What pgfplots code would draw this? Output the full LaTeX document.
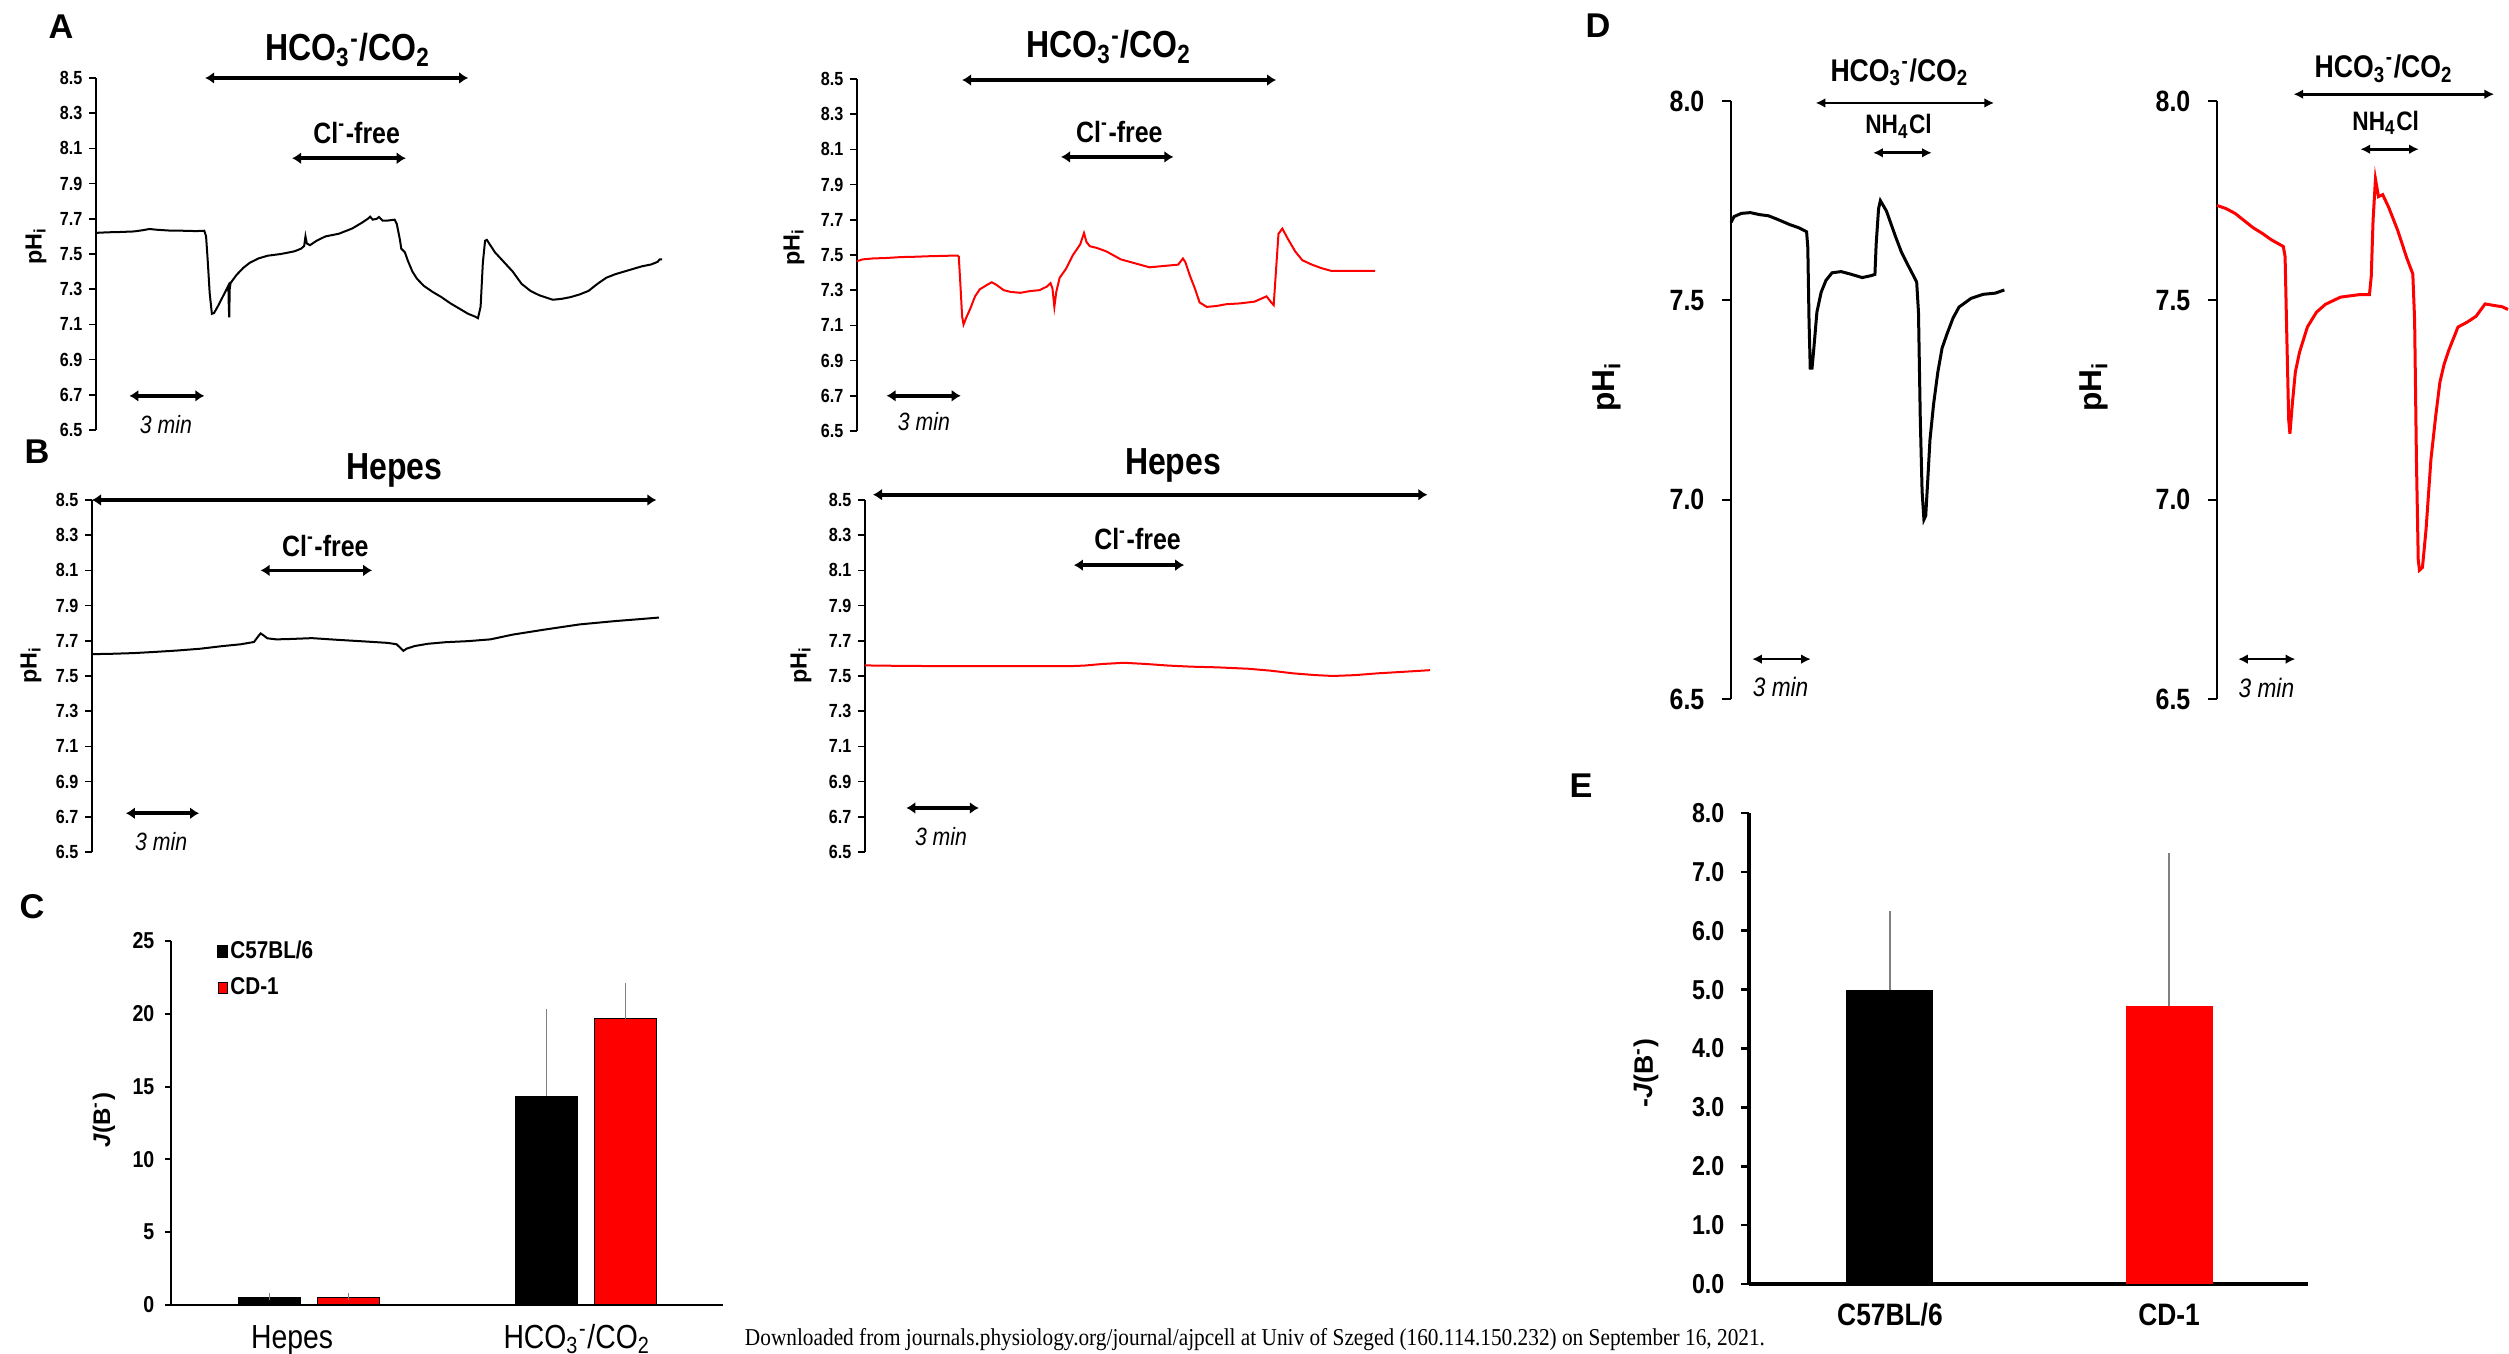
\documentclass[border=0pt]{standalone}
\usepackage{fontspec}
\setmainfont{Liberation Sans}
\newfontfamily\nar{Liberation Sans}[FakeStretch=0.85]
\newfontfamily\ser{Liberation Serif}[FakeStretch=0.88]
\usepackage{pgfplots}
\pgfplotsset{compat=1.18}
\usetikzlibrary{arrows.meta}
\newcommand\fs[1]{\fontsize{#1}{#1}\selectfont}
\definecolor{myred}{RGB}{255,0,0}
\pgfkeys{/pgf/number format/assume math mode=true}
\tikzset{
  arr/.style={{Latex[length=2.7pt,width=3.6pt]}-{Latex[length=2.7pt,width=3.6pt]}, line width=1.1pt},
  darr/.style={{Latex[length=2.9pt,width=2.9pt]}-{Latex[length=2.9pt,width=2.9pt]}, line width=0.8pt},
}
\pgfplotsset{
  trace/.style={scale only axis, hide x axis, axis y line*=left, clip=false,
    ymin=6.5, ymax=8.5, ytick={6.5,6.7,6.9,7.1,7.3,7.5,7.7,7.9,8.1,8.3,8.5},
    tick align=outside, major tick length=2pt,
    axis line style={line width=0.45pt}, tick style={line width=0.45pt, black},
    yticklabel style={font=\nar\bfseries\fs{5.7}, anchor=east, inner sep=0pt, xshift=-1.9pt,
      /pgf/number format/fixed, /pgf/number format/fixed zerofill, /pgf/number format/precision=1},
  },
  dtrace/.style={scale only axis, hide x axis, axis y line*=left, clip=false,
    ymin=6.5, ymax=8.0, ytick={6.5,7.0,7.5,8.0},
    tick align=outside, major tick length=2.7pt,
    axis line style={line width=0.6pt}, tick style={line width=0.6pt, black},
    yticklabel style={font=\nar\bfseries\fs{8.8}, anchor=east, inner sep=0pt, xshift=-5.1pt,
      /pgf/number format/fixed, /pgf/number format/fixed zerofill, /pgf/number format/precision=1},
  },
}
\newcommand\hco{HCO\textsubscript{3}\textsuperscript{-}/CO\textsubscript{2}}
\begin{document}
\begin{tikzpicture}
\path[use as bounding box] (0,0) rectangle (752.7pt,406.2pt);

% ---------------- panel letters and y labels
\node[font=\bfseries\fs{10.3}] at (18.3pt,398.1pt) {A};
\node[font=\bfseries\fs{10.3}] at (11.1pt,270.6pt) {B};
\node[font=\bfseries\fs{10.3}] at (9.6pt,134.1pt) {C};
\node[font=\bfseries\fs{10.3}] at (479.4pt,398.4pt) {D};
\node[font=\bfseries\fs{10.3}] at (474.3pt,170.4pt) {E};
\node[rotate=90, font=\bfseries\fs{7}] at (10.8pt,332.4pt) {pH\textsubscript{i}};
\node[rotate=90, font=\bfseries\fs{7}] at (238.2pt,332.1pt) {pH\textsubscript{i}};
\node[rotate=90, font=\bfseries\fs{7}] at (9.3pt,206.7pt) {pH\textsubscript{i}};
\node[rotate=90, font=\bfseries\fs{7}] at (240.3pt,206.7pt) {pH\textsubscript{i}};
\node[rotate=90, font=\bfseries\fs{9.5}] at (482.1pt,290.1pt) {pH\textsubscript{i}};
\node[rotate=90, font=\bfseries\fs{9.5}] at (628.2pt,290.1pt) {pH\textsubscript{i}};
\node[rotate=90, font=\bfseries\fs{7.2}] at (31.2pt,70.2pt) {\textit{J}(B\textsuperscript{-})};
\node[rotate=90, font=\bfseries\fs{8}] at (493.8pt,84.3pt) {-\textit{J}(B\textsuperscript{-})};
\node at (376.5pt,4.2pt) {\resizebox{306pt}{!}{\ser\fs{7}Downloaded from journals.physiology.org/journal/ajpcell at Univ of Szeged (160.114.150.232) on September 16, 2021.}};

% ---------------- A left
\begin{axis}[trace, at={(28.8pt,277.2pt)}, anchor=south west, width=169.8pt, height=105.6pt, xmin=215, xmax=1485]
\addplot[black, line width=0.6pt] coordinates {
(215,7.62) (240,7.623) (270,7.625) (300,7.628) (320,7.635) (335,7.642) (350,7.638) (380,7.633) (410,7.632) (440,7.63) (458,7.632) (462,7.60) (466,7.45) (470,7.28) (475,7.16) (480,7.165) (490,7.21) (500,7.26) (512,7.32) (513,7.20) (514,7.14) (515,7.30) (517,7.335) (530,7.38) (545,7.42) (560,7.45) (580,7.475) (600,7.49) (630,7.50) (660,7.515) (675,7.53) (682,7.545) (685,7.60) (688,7.56) (695,7.55) (710,7.575) (730,7.60) (760,7.615) (775,7.63) (790,7.645) (810,7.675) (825,7.70) (830,7.712) (836,7.695) (845,7.70) (850,7.71) (858,7.69) (870,7.69) (885,7.695) (890,7.67) (897,7.58) (900,7.53) (908,7.51) (915,7.46) (925,7.40) (935,7.36) (950,7.32) (970,7.285) (990,7.255) (1010,7.22) (1030,7.19) (1050,7.16) (1065,7.145) (1072,7.135) (1078,7.20) (1083,7.45) (1088,7.575) (1092,7.58) (1110,7.51) (1130,7.455) (1150,7.40) (1170,7.33) (1190,7.29) (1210,7.265) (1240,7.24) (1260,7.245) (1280,7.255) (1300,7.27) (1320,7.29) (1340,7.33) (1360,7.365) (1380,7.385) (1400,7.40) (1420,7.415) (1440,7.43) (1460,7.44) (1475,7.455) (1480,7.47) (1485,7.47)};
\draw[arr] (axis cs:460,8.5) -- (axis cs:1050,8.5);
\node[font=\nar\bfseries\fs{11.3}] at (axis cs:780,8.66) {\hco};
\draw[arr] (axis cs:655,8.044) -- (axis cs:910,8.044);
\node[font=\nar\bfseries\fs{8.8}] at (axis cs:800,8.19) {Cl\textsuperscript{-}-free};
\draw[arr] (axis cs:290,6.694) -- (axis cs:458,6.694);
\node[font=\nar\itshape\fs{7.5}] at (axis cs:372,6.53) {3 min};
\end{axis}

% ---------------- A right
\begin{axis}[trace, at={(257.1pt,276.9pt)}, anchor=south west, width=155.4pt, height=105.6pt, xmin=328, xmax=1412]
\addplot[myred, line width=0.6pt] coordinates {
(328,7.465) (340,7.475) (360,7.48) (390,7.483) (420,7.488) (450,7.49) (480,7.493) (510,7.495) (538,7.497) (541,7.49) (544,7.35) (548,7.15) (551,7.105) (556,7.14) (565,7.195) (575,7.265) (585,7.305) (600,7.33) (610,7.345) (620,7.33) (635,7.30) (650,7.29) (670,7.285) (690,7.295) (710,7.30) (725,7.32) (733,7.34) (737,7.31) (741,7.205) (745,7.29) (752,7.37) (765,7.42) (780,7.50) (795,7.56) (803,7.625) (808,7.575) (815,7.55) (830,7.54) (850,7.52) (870,7.49) (880,7.475) (900,7.46) (920,7.445) (940,7.43) (960,7.435) (980,7.44) (1000,7.445) (1010,7.48) (1015,7.46) (1025,7.38) (1035,7.31) (1045,7.23) (1060,7.205) (1080,7.21) (1100,7.22) (1130,7.225) (1160,7.235) (1185,7.265) (1195,7.23) (1200,7.215) (1205,7.42) (1210,7.62) (1218,7.65) (1230,7.59) (1245,7.52) (1260,7.47) (1280,7.445) (1300,7.425) (1320,7.41) (1350,7.41) (1380,7.41) (1412,7.41)};
\draw[arr] (axis cs:548,8.494) -- (axis cs:1205,8.494);
\node[font=\nar\bfseries\fs{11.3}] at (axis cs:855,8.68) {\hco};
\draw[arr] (axis cs:755,8.057) -- (axis cs:990,8.057);
\node[font=\nar\bfseries\fs{8.8}] at (axis cs:877,8.20) {Cl\textsuperscript{-}-free};
\draw[arr] (axis cs:390,6.70) -- (axis cs:545,6.70);
\node[font=\nar\itshape\fs{7.5}] at (axis cs:468,6.555) {3 min};
\end{axis}

% ---------------- B left
\begin{axis}[trace, at={(27.6pt,150.6pt)}, anchor=south west, width=170.1pt, height=105.6pt, xmin=207, xmax=1478]
\addplot[black, line width=0.6pt] coordinates {
(207,7.624) (250,7.626) (300,7.63) (350,7.637) (400,7.645) (450,7.655) (500,7.67) (540,7.68) (570,7.693) (578,7.72) (585,7.742) (592,7.73) (600,7.714) (620,7.708) (650,7.71) (700,7.715) (760,7.705) (820,7.696) (870,7.688) (890,7.68) (900,7.655) (905,7.643) (912,7.655) (930,7.67) (960,7.683) (1000,7.692) (1050,7.698) (1100,7.708) (1150,7.735) (1220,7.763) (1300,7.793) (1380,7.812) (1430,7.822) (1478,7.832)};
\draw[arr] (axis cs:207,8.5) -- (axis cs:1472,8.5);
\node[font=\nar\bfseries\fs{11.3}] at (axis cs:885,8.665) {Hepes};
\draw[arr] (axis cs:585,8.10) -- (axis cs:835,8.10);
\node[font=\nar\bfseries\fs{8.8}] at (axis cs:730,8.24) {Cl\textsuperscript{-}-free};
\draw[arr] (axis cs:283,6.72) -- (axis cs:447,6.72);
\node[font=\nar\itshape\fs{7.5}] at (axis cs:362,6.56) {3 min};
\end{axis}

% ---------------- B right
\begin{axis}[trace, at={(259.5pt,150.6pt)}, anchor=south west, width=169.5pt, height=105.6pt, xmin=187, xmax=1458]
\addplot[myred, line width=0.6pt] coordinates {
(187,7.56) (250,7.558) (350,7.556) (450,7.556) (550,7.556) (650,7.556) (680,7.559) (720,7.568) (770,7.575) (820,7.568) (870,7.559) (920,7.553) (980,7.549) (1050,7.541) (1100,7.53) (1150,7.515) (1200,7.505) (1240,7.50) (1290,7.505) (1340,7.515) (1400,7.524) (1458,7.533)};
\draw[arr] (axis cs:205,8.53) -- (axis cs:1452,8.53);
\node[font=\nar\bfseries\fs{11.3}] at (axis cs:880,8.695) {Hepes};
\draw[arr] (axis cs:657,8.13) -- (axis cs:905,8.13);
\node[font=\nar\bfseries\fs{8.8}] at (axis cs:800,8.276) {Cl\textsuperscript{-}-free};
\draw[arr] (axis cs:280,6.75) -- (axis cs:443,6.75);
\node[font=\nar\itshape\fs{7.5}] at (axis cs:358,6.59) {3 min};
\end{axis}

% ---------------- D left
\begin{axis}[dtrace, at={(519.3pt,196.5pt)}, anchor=south west, width=145.5pt, height=179.4pt, xmin=283, xmax=1085]
\addplot[black, line width=0.9pt] coordinates {
(283,7.695) (288,7.71) (300,7.718) (315,7.72) (330,7.715) (345,7.712) (360,7.703) (380,7.69) (395,7.682) (408,7.672) (410,7.632) (412,7.45) (414,7.33) (417,7.33) (420,7.38) (425,7.47) (432,7.52) (440,7.55) (450,7.569) (465,7.572) (480,7.566) (500,7.557) (515,7.562) (521,7.565) (523,7.64) (527,7.73) (530,7.75) (540,7.724) (555,7.66) (565,7.62) (575,7.59) (590,7.546) (593,7.47) (596,7.20) (599,7.02) (602,6.95) (605,6.96) (608,7.04) (612,7.15) (618,7.24) (625,7.32) (632,7.38) (640,7.415) (650,7.455) (660,7.483) (680,7.505) (700,7.515) (720,7.518) (735,7.526)};
\draw[darr] (axis cs:423,7.995) -- (axis cs:718,7.995);
\node[font=\nar\bfseries\fs{9.4}] at (axis cs:562,8.072) {\hco};
\draw[darr] (axis cs:518,7.87) -- (axis cs:615,7.87);
\node[font=\nar\bfseries\fs{8}] at (axis cs:560,7.937) {NH\textsubscript{4}Cl};
\draw[darr] (axis cs:318,6.60) -- (axis cs:415,6.60);
\node[font=\nar\itshape\fs{8}] at (axis cs:365,6.529) {3 min};
\end{axis}

% ---------------- D right
\begin{axis}[dtrace, at={(665.1pt,196.5pt)}, anchor=south west, width=87.3pt, height=179.4pt, xmin=1085, xmax=1568]
\addplot[myred, line width=0.9pt] coordinates {
(1085,7.738) (1100,7.73) (1115,7.718) (1130,7.70) (1145,7.682) (1160,7.668) (1175,7.652) (1195,7.635) (1198,7.61) (1201,7.40) (1204,7.20) (1206,7.165) (1210,7.24) (1215,7.32) (1222,7.37) (1235,7.433) (1250,7.47) (1265,7.49) (1290,7.508) (1320,7.514) (1338,7.514) (1341,7.56) (1344,7.70) (1348,7.804) (1353,7.76) (1360,7.765) (1370,7.733) (1385,7.675) (1400,7.606) (1410,7.566) (1413,7.45) (1416,7.10) (1419,6.85) (1421,6.823) (1426,6.83) (1432,6.926) (1440,7.10) (1448,7.21) (1455,7.295) (1462,7.34) (1470,7.376) (1485,7.433) (1500,7.445) (1515,7.46) (1530,7.491) (1545,7.487) (1558,7.484) (1568,7.477)};
\draw[darr] (axis cs:1212,8.017) -- (axis cs:1545,8.017);
\node[font=\nar\bfseries\fs{9.4}] at (axis cs:1362,8.081) {\hco};
\draw[darr] (axis cs:1323,7.879) -- (axis cs:1420,7.879);
\node[font=\nar\bfseries\fs{8}] at (axis cs:1365,7.945) {NH\textsubscript{4}Cl};
\draw[darr] (axis cs:1120,6.60) -- (axis cs:1215,6.60);
\node[font=\nar\itshape\fs{8}] at (axis cs:1167,6.527) {3 min};
\end{axis}

% ---------------- C
\begin{axis}[scale only axis, at={(51.3pt,14.7pt)}, anchor=south west, width=165.6pt, height=109.2pt,
  xmin=-0.498, xmax=1.495, ymin=0, ymax=25, ytick={0,5,10,15,20,25}, xtick=\empty,
  axis x line*=bottom, axis y line*=left, clip=false,
  tick align=outside, major tick length=1.8pt,
  axis line style={line width=0.75pt}, tick style={line width=0.6pt, black},
  yticklabel style={font=\nar\bfseries\fs{6.9}, anchor=east, inner sep=0pt, xshift=-3pt},
  legend style={at={(0.083,1.009)}, anchor=north west, draw=none, fill=none, inner sep=0pt,
    font=\nar\bfseries\fs{7.3}, row sep=3pt, nodes={inner sep=0.6pt}},
  legend cell align=left]
\addplot[ybar, bar width=18.6pt, bar shift=0pt, fill=black, draw=black, line width=0.4pt,
  legend image code/.code={\fill[black] (0pt,-1.7pt) rectangle (2.9pt,1.7pt);},
  error bars/.cd, y dir=plus, y explicit,
  error bar style={gray, line width=0.4pt}, error mark options={gray, mark size=1pt, line width=0.4pt}]
  coordinates {(-0.1426,0.53) +- (0,0.07) (0.8574,14.33) +- (0,5.77)};
\addlegendentry{C57BL/6}
\addplot[ybar, bar width=18.6pt, bar shift=0pt, fill=myred, draw=black, line width=0.4pt,
  legend image code/.code={\fill[myred, draw=black, line width=0.2pt] (0pt,-1.7pt) rectangle (2.9pt,1.7pt);},
  error bars/.cd, y dir=plus, y explicit,
  error bar style={gray, line width=0.4pt}, error mark options={gray, mark size=1pt, line width=0.4pt}]
  coordinates {(0.1426,0.50) +- (0,0.08) (1.1426,19.67) +- (0,2.22)};
\addlegendentry{CD-1}
\node[font=\nar\fs{10}, anchor=base, inner sep=0pt] at (axis cs:-0.061,-3.0) {Hepes};
\node[font=\nar\fs{10}, anchor=base, inner sep=0pt] at (axis cs:0.968,-3.0) {\hco};
\end{axis}

% ---------------- E
\begin{axis}[scale only axis, at={(524.7pt,21pt)}, anchor=south west, width=167.7pt, height=141.3pt,
  xmin=-0.505, xmax=1.498, ymin=0, ymax=8, ytick={0,1,2,3,4,5,6,7,8}, xtick=\empty,
  axis x line*=bottom, axis y line*=left, clip=false,
  tick align=outside, major tick length=2.4pt,
  axis line style={line width=1pt}, tick style={line width=0.8pt, black},
  yticklabel style={font=\nar\bfseries\fs{8.2}, anchor=east, inner sep=0pt, xshift=-4.8pt,
    /pgf/number format/fixed, /pgf/number format/fixed zerofill, /pgf/number format/precision=1}]
\addplot[ybar, bar width=26.1pt, bar shift=0pt, fill=black, draw=none,
  error bars/.cd, y dir=plus, y explicit,
  error bar style={gray, line width=0.4pt}, error mark options={gray, mark size=1pt, line width=0.4pt}]
  coordinates {(0,5.00) +- (0,1.28)};
\addplot[ybar, bar width=26.1pt, bar shift=0pt, fill=myred, draw=none,
  error bars/.cd, y dir=plus, y explicit,
  error bar style={gray, line width=0.4pt}, error mark options={gray, mark size=1pt, line width=0.4pt}]
  coordinates {(1,4.73) +- (0,2.53)};
\node[font=\nar\bfseries\fs{9.3}, anchor=base, inner sep=0pt] at (axis cs:0,-0.71) {C57BL/6};
\node[font=\nar\bfseries\fs{9.3}, anchor=base, inner sep=0pt] at (axis cs:1,-0.71) {CD-1};
\end{axis}
\end{tikzpicture}
\end{document}
